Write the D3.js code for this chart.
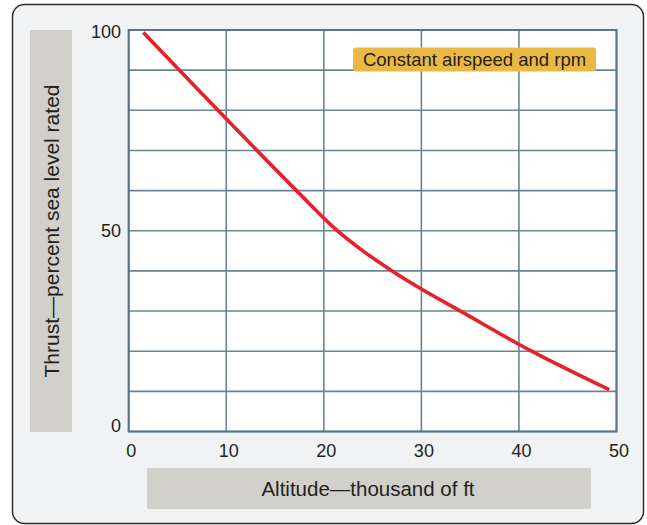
<!DOCTYPE html>
<html>
<head>
<meta charset="utf-8">
<script src="https://cdn.jsdelivr.net/npm/d3@7"></script>
<style>
  html, body { margin: 0; padding: 0; background: #ffffff; }
  svg { display: block; }
  text { font-family: "Liberation Sans", Arial, Helvetica, sans-serif; fill: #231f20; }
</style>
</head>
<body>
<script>
// Thrust lapse with altitude (constant airspeed and rpm)
const altitude = [1.5, 9.15, 17.4, 21.2, 24, 27, 30, 34.15, 41.3, 49.25];
const thrust   = [99.4, 80, 59.5, 50.4, 45.0, 40, 35.5, 29.8, 20, 10.4];

const xTicks = [0, 10, 20, 30, 40, 50];
const yTickLabels = [0, 50, 100];
const yGrid = d3.range(0, 101, 10);

const yTitle = "Thrust\u2014percent sea level rated";
const xTitle = "Altitude\u2014thousand of ft";
const noteText = "Constant airspeed and rpm";

const W = 647, H = 525;
const svg = d3.select("body").append("svg").attr("width", W).attr("height", H);

// outer rounded panel
svg.append("rect")
  .attr("x", 12.5).attr("y", 4.5).attr("width", 631).attr("height", 519)
  .attr("rx", 12).attr("ry", 12)
  .attr("fill", "#f0f2f4").attr("stroke", "#2e2e2e").attr("stroke-width", 1.5);

const x = d3.scaleLinear().domain([0, 50]).range([128.7, 616.5]);
const y = d3.scaleLinear().domain([0, 100]).range([431.5, 30]);

// plot background
svg.append("rect")
  .attr("x", x(0)).attr("y", y(100))
  .attr("width", x(50) - x(0)).attr("height", y(0) - y(100))
  .attr("fill", "#ffffff");

const gridColor = "#688594";

// horizontal grid
svg.append("g").selectAll("line").data(yGrid).join("line")
  .attr("x1", x(0)).attr("x2", x(50))
  .attr("y1", d => y(d)).attr("y2", d => y(d))
  .attr("stroke", gridColor).attr("stroke-width", 1.6);

// vertical grid
svg.append("g").selectAll("line").data(xTicks).join("line")
  .attr("y1", y(0)).attr("y2", y(100))
  .attr("x1", d => x(d)).attr("x2", d => x(d))
  .attr("stroke", gridColor).attr("stroke-width", 1.6);

// frame
svg.append("rect")
  .attr("x", x(0)).attr("y", y(100))
  .attr("width", x(50) - x(0)).attr("height", y(0) - y(100))
  .attr("fill", "none").attr("stroke", "#587585").attr("stroke-width", 2);

// x axis tick labels
const xAxis = d3.axisBottom(x).tickValues(xTicks).tickSize(0).tickPadding(0);
const gx = svg.append("g").attr("transform", `translate(2,${y(0)})`).call(xAxis);
gx.select(".domain").remove();
gx.selectAll("text")
  .attr("dy", null).attr("y", 25)
  .style("font-size", "18px").style("fill", "#231f20")
  .style("font-family", "'Liberation Sans', Arial, sans-serif");

// y axis tick labels
const yAxis = d3.axisLeft(y).tickValues(yTickLabels).tickSize(0).tickPadding(0);
const gy = svg.append("g").attr("transform", `translate(121,0)`).call(yAxis);
gy.select(".domain").remove();
gy.selectAll("text")
  .attr("x", 0)
  .attr("dy", d => d === 0 ? "-0.02em" : (d === 100 ? "0.4em" : "0.3em"))
  .style("font-size", "18px").style("fill", "#231f20")
  .style("font-family", "'Liberation Sans', Arial, sans-serif");

// y title box
svg.append("rect").attr("x", 30).attr("y", 30).attr("width", 42).attr("height", 402)
  .attr("fill", "#d1d0cb");
svg.append("text")
  .attr("transform", "translate(58.5,231) rotate(-90)")
  .attr("text-anchor", "middle")
  .style("font-size", "21px")
  .text(yTitle);

// x title box
svg.append("rect").attr("x", 147).attr("y", 468).attr("width", 444).attr("height", 41)
  .attr("fill", "#d1d0cb");
svg.append("text")
  .attr("x", 368).attr("y", 496)
  .attr("text-anchor", "middle")
  .style("font-size", "20.5px")
  .text(xTitle);

// curve
const line = d3.line()
  .x((d, i) => x(altitude[i]))
  .y(d => y(d))
  .curve(d3.curveCatmullRom.alpha(0.5));
svg.append("path")
  .datum(thrust)
  .attr("d", line)
  .attr("fill", "none")
  .attr("stroke", "#e8202a")
  .attr("stroke-width", 3.6)
  .attr("stroke-linecap", "butt");

// note box
svg.append("rect").attr("x", 353).attr("y", 47.5).attr("width", 243).attr("height", 24)
  .attr("rx", 3).attr("fill", "#ebb844");
svg.append("text")
  .attr("x", 474.5).attr("y", 66)
  .attr("text-anchor", "middle")
  .style("font-size", "18.5px")
  .text(noteText);
</script>
</body>
</html>
